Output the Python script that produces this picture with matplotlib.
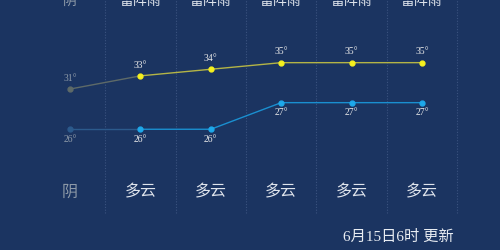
import matplotlib
matplotlib.use('Agg')
import matplotlib.pyplot as plt

plt.rcParams['font.family'] = ['Noto Sans CJK SC', 'DejaVu Sans']

# forecast data
day_weather = ['阴', '雷阵雨', '雷阵雨', '雷阵雨', '雷阵雨', '雷阵雨']
night_weather = ['阴', '多云', '多云', '多云', '多云', '多云']
high_temps = [31, 33, 34, 35, 35, 35]
low_temps = [26, 26, 26, 27, 27, 27]
update_text = '6月15日6时 更新'

bg = '#1b3461'
hi_col = '#f5f01e'
hi_line = '#b4b446'
lo_col = '#1ea8ea'
lo_line = '#1a8fd0'
past_hi = '#5e6a68'
past_lo = '#2c5a8c'

fig = plt.figure(figsize=(5, 2.5), dpi=100, facecolor=bg)
ax = fig.add_axes([0, 0, 1, 1])
ax.set_facecolor(bg)
ax2 = ax.twinx()

x = list(range(len(high_temps)))
ax.set_xlim(-0.994, 6.108)
ax.set_ylim(6.6, 44.5)
ax2.set_ylim(21.46, 30.86)

for a in (ax, ax2):
    a.axis('off')

# dotted column dividers
for i in x:
    ax.axvline(i + 0.5, ymin=0.148, ymax=1, color='#3b5380', lw=0.8, ls=(0, (1, 1.5)))

# high temperature line
ax.plot(x[:2], high_temps[:2], color=past_hi, lw=1, zorder=2)
ax.plot(x[1:], high_temps[1:], color=hi_line, lw=1, zorder=2)
ax.plot(x[:1], high_temps[:1], 'o', color=past_hi, ms=3.5, zorder=3)
ax.plot(x[1:], high_temps[1:], 'o', color=hi_col, ms=3.5, zorder=3)

# low temperature line
ax2.plot(x[:2], low_temps[:2], color=past_lo, lw=1, zorder=2)
ax2.plot(x[1:], low_temps[1:], color=lo_line, lw=1, zorder=2)
ax2.plot(x[:1], low_temps[:1], 'o', color=past_lo, ms=3.5, zorder=3)
ax2.plot(x[1:], low_temps[1:], 'o', color=lo_col, ms=3.5, zorder=3)

serif = ['Liberation Serif', 'DejaVu Serif']
for i, v in enumerate(high_temps):
    c = '#8e9aa8' if i == 0 else '#e8e8e8'
    ax.annotate(f'{v}°', (i, v), xytext=(0, 4.5), textcoords='offset points',
                ha='center', va='bottom', fontsize=7, color=c, family=serif)
for i, v in enumerate(low_temps):
    c = '#8e9aa8' if i == 0 else '#e8e8e8'
    ax2.annotate(f'{v}°', (i, v), xytext=(0, -4), textcoords='offset points',
                 ha='center', va='top', fontsize=7, color=c, family=serif)

tr = ax.get_xaxis_transform()
for i, t in enumerate(day_weather):
    c = '#8e9aa8' if i == 0 else '#dfe4ec'
    ax.text(i, 0.995, t, transform=tr, ha='center', va='center', fontsize=10, color=c)
for i, t in enumerate(night_weather):
    c = '#8e9aa8' if i == 0 else '#dfe4ec'
    ax.text(i, 0.232, t, transform=tr, ha='center', va='center', fontsize=11.5, color=c)

fig.text(0.797, 0.052, update_text, ha='center', va='center', fontsize=11,
         color='#e8ecf2', family=['Liberation Serif', 'Noto Sans CJK SC'])

fig.savefig('out.png', dpi=100, facecolor=bg)
